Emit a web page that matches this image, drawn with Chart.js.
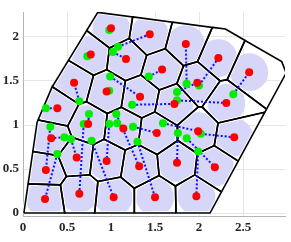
<!DOCTYPE html>
<html>
<head>
<meta charset="utf-8">
<script src="https://cdn.jsdelivr.net/npm/chart.js@4"></script>
<style>
  html, body { margin: 0; padding: 0; background: #fff; }
  #wrap { width: 291px; height: 242px; }
</style>
</head>
<body>
<div id="wrap"><canvas id="chart"></canvas></div>
<script>
// tick values
const xTicks = [0, 0.5, 1, 1.5, 2, 2.5];
const yTicks = [0, 0.5, 1, 1.5, 2];

// outer region (polygon vertices)
const boundX = [0.01, 0.16, 0.33, 0.85, 2.30, 2.94, 2.99, 2.125];
const boundY = [0.00, 1.03, 1.43, 2.28, 2.09, 1.72, 1.59, 0.00];

// red points (Voronoi sites)
const redX = [1.00, 1.44, 1.85, 2.22, 2.57, 0.77, 1.17, 1.58, 0.58, 1.33, 0.95, 0.39, 1.72, 1.98, 2.31, 1.14,
              1.52, 1.99, 2.40, 1.75, 2.18, 1.97, 0.74, 0.32, 0.61, 0.95, 1.32, 0.26, 0.25, 0.64, 1.03, 1.50];
const redY = [2.10, 2.03, 1.92, 1.76, 1.60, 1.80, 1.75, 1.63, 1.48, 1.32, 1.38, 1.19, 1.24, 1.48, 1.25, 0.96,
              0.91, 0.93, 0.86, 0.57, 0.52, 0.19, 1.01, 0.85, 0.63, 0.59, 0.53, 0.49, 0.16, 0.22, 0.18, 0.18];

// green points, one per red point (same index)
const greenX = [0.98, 1.08, 1.86, 2.00, 2.39, 0.73, 1.02, 1.43, 0.64, 0.99, 0.98, 0.26, 1.24, 1.75, 1.75, 1.07,
                1.25, 1.59, 2.02, 1.76, 1.86, 1.99, 0.75, 0.47, 0.545, 0.98, 1.06, 0.31, 0.39, 0.69, 0.78, 1.30];
const greenY = [2.08, 1.89, 1.47, 1.45, 1.35, 1.78, 1.83, 1.55, 1.27, 1.55, 1.39, 1.19, 1.23, 1.375, 1.28, 1.02,
                0.98, 1.02, 0.90, 0.91, 0.85, 0.70, 1.125, 0.86, 0.84, 1.01, 1.125, 0.98, 0.67, 1.01, 0.82, 0.81];

const discR = 0.215;

// keep the part of poly where a*x + b*y <= c
function clip(poly, a, b, c) {
  const out = [];
  for (let i = 0; i < poly.length; i++) {
    const p = poly[i], q = poly[(i + 1) % poly.length];
    const fp = a * p.x + b * p.y - c, fq = a * q.x + b * q.y - c;
    if (fp <= 0) out.push(p);
    if ((fp < 0 && fq > 0) || (fp > 0 && fq < 0)) {
      const t = fp / (fp - fq);
      out.push({ x: p.x + t * (q.x - p.x), y: p.y + t * (q.y - p.y) });
    }
  }
  return out;
}

const bound = boundX.map((x, i) => ({ x, y: boundY[i] }));
const cx = boundX.reduce((s, v) => s + v, 0) / boundX.length;
const cy = boundY.reduce((s, v) => s + v, 0) / boundY.length;
const boundPlanes = bound.map((p, i) => {
  const q = bound[(i + 1) % bound.length];
  let a = q.y - p.y, b = -(q.x - p.x), c = a * p.x + b * p.y;
  if (a * cx + b * cy > c) { a = -a; b = -b; c = -c; }
  return [a, b, c];
});

function cellPlanes(i) {
  const planes = [];
  for (let j = 0; j < redX.length; j++) {
    if (j === i) continue;
    const dx = redX[j] - redX[i], dy = redY[j] - redY[i];
    planes.push([dx, dy, dx * (redX[i] + redX[j]) / 2 + dy * (redY[i] + redY[j]) / 2]);
  }
  return planes;
}

const closed = (poly) => poly.concat([poly[0]]);

const fillSets = [], haloSets = [], edgeSets = [], linkSets = [];
redX.forEach((x, i) => {
  const planes = cellPlanes(i);
  let cell = bound.slice();
  planes.forEach(([a, b, c]) => { cell = clip(cell, a, b, c); });

  let disc = [];
  for (let k = 0; k < 90; k++) {
    const t = (k / 90) * Math.PI * 2;
    disc.push({ x: x + discR * Math.cos(t), y: redY[i] + discR * Math.sin(t) });
  }
  boundPlanes.concat(planes).forEach(([a, b, c]) => { disc = clip(disc, a, b, c); });

  fillSets.push({
    data: closed(disc), showLine: true, fill: 'shape', tension: 0,
    backgroundColor: 'rgb(214,214,248)', borderWidth: 0, pointRadius: 0, order: 5
  });
  haloSets.push({
    data: closed(cell), showLine: true, fill: false, tension: 0,
    borderColor: '#ffffff', borderWidth: 3.5, pointRadius: 0, order: 4
  });
  edgeSets.push({
    data: closed(cell), showLine: true, fill: false, tension: 0,
    borderColor: '#000000', borderWidth: 1.6, pointRadius: 0, order: 3
  });
  linkSets.push({
    data: [{ x: greenX[i], y: greenY[i] }, { x, y: redY[i] }],
    showLine: true, fill: false, borderColor: '#1010ff', borderWidth: 2,
    borderDash: [2, 2], pointRadius: 0, order: 2
  });
});

const greenSet = {
  data: greenX.map((x, i) => ({ x, y: greenY[i] })),
  showLine: false, pointRadius: 4, pointBackgroundColor: '#00ee00',
  pointBorderWidth: 0, order: 1
};
const redSet = {
  data: redX.map((x, i) => ({ x, y: redY[i] })),
  showLine: false, pointRadius: 4, pointBackgroundColor: '#ff0000',
  pointBorderWidth: 0, order: 0
};

const tickFont = { family: '"Liberation Serif", "Times New Roman", serif', size: 13, weight: 'bold' };

new Chart(document.getElementById('chart'), {
  type: 'scatter',
  data: { datasets: [redSet, greenSet, ...linkSets, ...edgeSets, ...haloSets, ...fillSets] },
  options: {
    responsive: true,
    maintainAspectRatio: false,
    animation: false,
    devicePixelRatio: 1,
    events: [],
    layout: { padding: { top: 12, right: 6, left: 0, bottom: 0 } },
    plugins: { legend: { display: false }, tooltip: { enabled: false } },
    scales: {
      x: {
        type: 'linear', min: 0, max: 2.977,
        afterBuildTicks: (s) => { s.ticks = xTicks.map((v) => ({ value: v })); },
        afterFit: (s) => { s.height = 26; },
        ticks: { font: tickFont, color: '#262626', padding: 4, autoSkip: false, maxRotation: 0,
                 callback: (v) => String(v) },
        grid: { color: '#e6e6e6', drawTicks: false },
        border: { color: '#b4b4b4' }
      },
      y: {
        type: 'linear', min: -0.034, max: 2.284,
        afterBuildTicks: (s) => { s.ticks = yTicks.map((v) => ({ value: v })); },
        afterFit: (s) => { s.width = 23; },
        ticks: { font: tickFont, color: '#262626', padding: 4, autoSkip: false,
                 callback: (v) => String(v) },
        grid: { color: '#e6e6e6', drawTicks: false },
        border: { color: '#b4b4b4' }
      }
    }
  }
});
</script>
</body>
</html>
